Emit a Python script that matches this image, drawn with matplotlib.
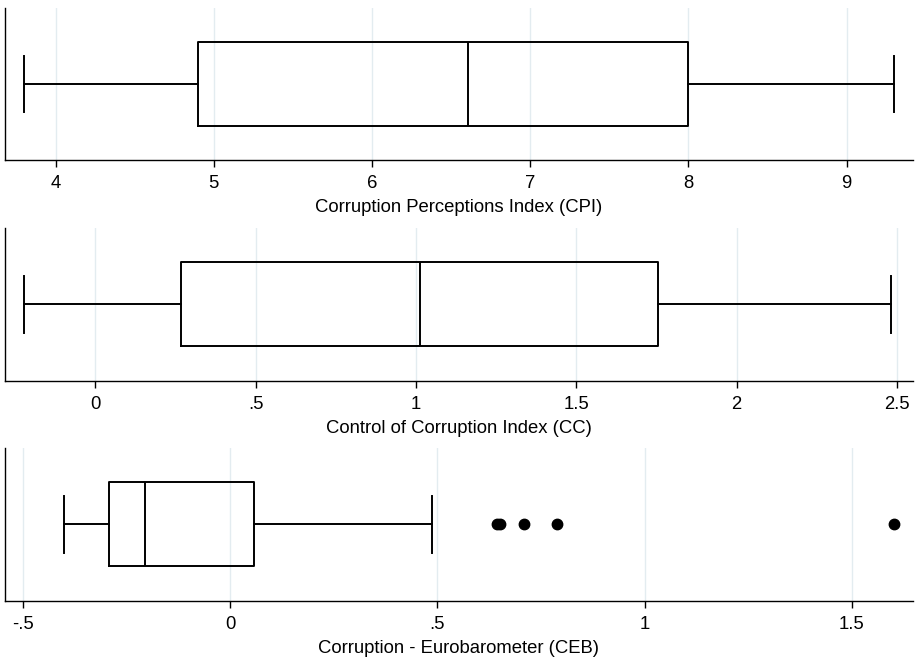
import matplotlib.pyplot as plt
from matplotlib.ticker import FuncFormatter

plt.rcParams['font.family'] = ['Liberation Sans', 'DejaVu Sans']

# box stats
names = ['Corruption Perceptions Index (CPI)',
         'Control of Corruption Index (CC)',
         'Corruption - Eurobarometer (CEB)']
whislo = [3.80, -0.223, -0.401]
q1 = [4.90, 0.267, -0.292]
med = [6.61, 1.011, -0.205]
q3 = [8.00, 1.754, 0.056]
whishi = [9.30, 2.48, 0.486]
fliers = [[], [], [0.643, 0.651, 0.710, 0.789, 1.603]]

xlims = [(3.68, 9.42), (-0.282, 2.55), (-0.544, 1.648)]
xticks = [[4, 5, 6, 7, 8, 9], [0, 0.5, 1, 1.5, 2, 2.5], [-0.5, 0, 0.5, 1, 1.5]]


def stata_fmt(v, pos):
    s = ('%g' % round(v, 6))
    if s.startswith('0.'):
        s = s[1:]
    elif s.startswith('-0.'):
        s = '-' + s[2:]
    return s


fig = plt.figure(figsize=(9.2, 6.63), dpi=100)
boxes = [[0.0054, 0.7587, 0.987, 0.2292],
         [0.0054, 0.4258, 0.987, 0.2303],
         [0.0054, 0.0940, 0.987, 0.2303]]

for i in range(3):
    ax = fig.add_axes(boxes[i])
    stats = [dict(med=med[i], q1=q1[i], q3=q3[i], whislo=whislo[i],
                  whishi=whishi[i], fliers=fliers[i])]
    lw = 1.4
    ax.bxp(stats, positions=[0.5], widths=0.55, capwidths=0.375, vert=False,
           boxprops=dict(color='black', linewidth=lw),
           medianprops=dict(color='black', linewidth=lw),
           whiskerprops=dict(color='black', linewidth=lw),
           capprops=dict(color='black', linewidth=lw),
           flierprops=dict(marker='o', markerfacecolor='black',
                           markeredgecolor='black', markersize=7.5))
    ax.set_ylim(0, 1)
    ax.set_xlim(*xlims[i])
    ax.set_xticks(xticks[i])
    ax.xaxis.set_major_formatter(FuncFormatter(stata_fmt))
    ax.set_yticks([])
    ax.spines['top'].set_visible(False)
    ax.spines['right'].set_visible(False)
    ax.spines['left'].set_linewidth(1.0)
    ax.spines['bottom'].set_linewidth(1.0)
    ax.grid(axis='x', color='#e3ecf0', linewidth=1.0)
    ax.set_axisbelow(True)
    ax.tick_params(axis='x', length=5, width=1.0, labelsize=13.3, pad=6)
    ax.set_xlabel(names[i], fontsize=13.3, labelpad=5)

fig.savefig('out.png', dpi=100)
